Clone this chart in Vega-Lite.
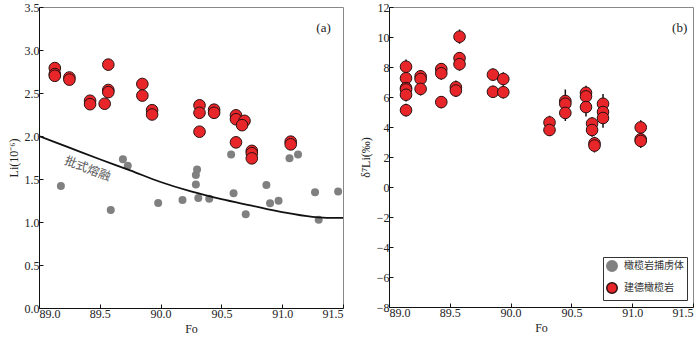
{
  "$schema": "https://vega.github.io/schema/vega-lite/v6.json",
  "background": "white",
  "padding": {"left": 6, "top": 0, "right": 4, "bottom": 0},
  "config": {
    "view": {"stroke": "#888", "strokeWidth": 1},
    "font": "Liberation Serif",
    "axis": {
      "labelFont": "Liberation Serif", "labelFontSize": 12, "labelColor": "#222",
      "titleFont": "Liberation Serif", "titleFontSize": 12, "titleFontWeight": "normal", "titleColor": "#222",
      "domainColor": "#111", "tickColor": "#111", "tickSize": -4, "grid": false, "labelPadding": 4,
      "labelOverlap": false
    },
    "legend": {"labelFont": "Noto Sans CJK SC"}
  },
  "datasets": {
    "grayA": [
      {"fo": 89.18, "li": 1.42}, {"fo": 89.59, "li": 1.14}, {"fo": 89.98, "li": 1.22},
      {"fo": 90.18, "li": 1.255}, {"fo": 90.29, "li": 1.436}, {"fo": 90.29, "li": 1.546},
      {"fo": 90.30, "li": 1.61}, {"fo": 90.31, "li": 1.278}, {"fo": 90.40, "li": 1.27},
      {"fo": 90.60, "li": 1.335}, {"fo": 90.70, "li": 1.09}, {"fo": 90.87, "li": 1.43},
      {"fo": 90.90, "li": 1.217}, {"fo": 90.97, "li": 1.247}, {"fo": 91.27, "li": 1.347},
      {"fo": 91.30, "li": 1.025}, {"fo": 91.46, "li": 1.355}, {"fo": 89.69, "li": 1.73},
      {"fo": 89.73, "li": 1.654}, {"fo": 90.58, "li": 1.785}, {"fo": 91.06, "li": 1.74},
      {"fo": 91.13, "li": 1.785}
    ],
    "redA": [
      {"fo": 89.13, "li": 2.79}, {"fo": 89.13, "li": 2.72}, {"fo": 89.13, "li": 2.70},
      {"fo": 89.25, "li": 2.68}, {"fo": 89.25, "li": 2.655},
      {"fo": 89.42, "li": 2.41}, {"fo": 89.42, "li": 2.37},
      {"fo": 89.54, "li": 2.375}, {"fo": 89.57, "li": 2.83}, {"fo": 89.57, "li": 2.535}, {"fo": 89.57, "li": 2.51},
      {"fo": 89.85, "li": 2.605}, {"fo": 89.85, "li": 2.47},
      {"fo": 89.93, "li": 2.30}, {"fo": 89.93, "li": 2.25},
      {"fo": 90.32, "li": 2.357}, {"fo": 90.32, "li": 2.27}, {"fo": 90.32, "li": 2.05},
      {"fo": 90.44, "li": 2.306}, {"fo": 90.44, "li": 2.27},
      {"fo": 90.62, "li": 2.24}, {"fo": 90.62, "li": 2.195}, {"fo": 90.69, "li": 2.176},
      {"fo": 90.67, "li": 2.126}, {"fo": 90.62, "li": 1.926},
      {"fo": 90.75, "li": 1.827}, {"fo": 90.75, "li": 1.80}, {"fo": 90.75, "li": 1.74},
      {"fo": 91.07, "li": 1.934}, {"fo": 91.07, "li": 1.903}
    ],
    "curve": [
      {"fo": 89.0, "li": 2.0}, {"fo": 89.25, "li": 1.865}, {"fo": 89.5, "li": 1.73},
      {"fo": 89.75, "li": 1.60}, {"fo": 90.0, "li": 1.465}, {"fo": 90.25, "li": 1.355},
      {"fo": 90.5, "li": 1.265}, {"fo": 90.75, "li": 1.19}, {"fo": 91.0, "li": 1.115},
      {"fo": 91.25, "li": 1.06}, {"fo": 91.4, "li": 1.048}, {"fo": 91.5, "li": 1.048}
    ],
    "textA": [
      {"fo": 91.34, "li": 3.26, "t": "(a)"}
    ],
    "meltLabel": [
      {"fo": 89.40, "li": 1.62, "t": "批式熔融"}
    ],
    "textB": [
      {"fo": 91.39, "v": 10.6, "t": "(b)"}
    ],
    "redB": [
      {"fo": 89.14, "v": 8.02, "lo": 7.55, "hi": 8.5, "type": "建德橄榄岩"},
      {"fo": 89.14, "v": 7.25, "lo": 6.8, "hi": 7.7, "type": "建德橄榄岩"},
      {"fo": 89.14, "v": 6.6, "lo": 6.15, "hi": 7.05, "type": "建德橄榄岩"},
      {"fo": 89.14, "v": 6.5, "lo": 6.05, "hi": 6.95, "type": "建德橄榄岩"},
      {"fo": 89.14, "v": 6.15, "lo": 5.7, "hi": 6.6, "type": "建德橄榄岩"},
      {"fo": 89.14, "v": 5.12, "lo": 4.7, "hi": 5.55, "type": "建德橄榄岩"},
      {"fo": 89.26, "v": 7.38, "lo": 6.95, "hi": 7.8, "type": "建德橄榄岩"},
      {"fo": 89.26, "v": 7.2, "lo": 6.8, "hi": 7.6, "type": "建德橄榄岩"},
      {"fo": 89.26, "v": 6.54, "lo": 6.1, "hi": 7.0, "type": "建德橄榄岩"},
      {"fo": 89.43, "v": 7.86, "lo": 7.45, "hi": 8.25, "type": "建德橄榄岩"},
      {"fo": 89.43, "v": 7.58, "lo": 7.15, "hi": 8.0, "type": "建德橄榄岩"},
      {"fo": 89.43, "v": 5.66, "lo": 5.25, "hi": 6.05, "type": "建德橄榄岩"},
      {"fo": 89.55, "v": 6.65, "lo": 6.2, "hi": 7.1, "type": "建德橄榄岩"},
      {"fo": 89.55, "v": 6.43, "lo": 6.0, "hi": 6.85, "type": "建德橄榄岩"},
      {"fo": 89.58, "v": 10.02, "lo": 9.55, "hi": 10.5, "type": "建德橄榄岩"},
      {"fo": 89.58, "v": 8.59, "lo": 8.15, "hi": 9.0, "type": "建德橄榄岩"},
      {"fo": 89.58, "v": 8.19, "lo": 7.75, "hi": 8.6, "type": "建德橄榄岩"},
      {"fo": 89.855, "v": 7.49, "lo": 7.1, "hi": 7.9, "type": "建德橄榄岩"},
      {"fo": 89.855, "v": 6.35, "lo": 5.95, "hi": 6.75, "type": "建德橄榄岩"},
      {"fo": 89.94, "v": 7.2, "lo": 6.75, "hi": 7.65, "type": "建德橄榄岩"},
      {"fo": 89.94, "v": 6.32, "lo": 5.9, "hi": 6.75, "type": "建德橄榄岩"},
      {"fo": 90.32, "v": 4.3, "lo": 3.9, "hi": 4.75, "type": "建德橄榄岩"},
      {"fo": 90.32, "v": 3.8, "lo": 3.4, "hi": 4.2, "type": "建德橄榄岩"},
      {"fo": 90.45, "v": 5.73, "lo": 5.1, "hi": 6.5, "type": "建德橄榄岩"},
      {"fo": 90.45, "v": 5.55, "lo": 5.0, "hi": 6.1, "type": "建德橄榄岩"},
      {"fo": 90.45, "v": 4.94, "lo": 4.4, "hi": 5.4, "type": "建德橄榄岩"},
      {"fo": 90.62, "v": 6.28, "lo": 5.8, "hi": 6.75, "type": "建德橄榄岩"},
      {"fo": 90.62, "v": 6.04, "lo": 5.5, "hi": 6.5, "type": "建德橄榄岩"},
      {"fo": 90.62, "v": 5.33, "lo": 4.7, "hi": 5.9, "type": "建德橄榄岩"},
      {"fo": 90.67, "v": 4.23, "lo": 3.8, "hi": 4.65, "type": "建德橄榄岩"},
      {"fo": 90.67, "v": 3.8, "lo": 3.35, "hi": 4.25, "type": "建德橄榄岩"},
      {"fo": 90.69, "v": 2.91, "lo": 2.45, "hi": 3.35, "type": "建德橄榄岩"},
      {"fo": 90.69, "v": 2.76, "lo": 2.3, "hi": 3.2, "type": "建德橄榄岩"},
      {"fo": 90.76, "v": 5.55, "lo": 5.1, "hi": 6.2, "type": "建德橄榄岩"},
      {"fo": 90.76, "v": 5.0, "lo": 4.5, "hi": 5.5, "type": "建德橄榄岩"},
      {"fo": 90.76, "v": 4.6, "lo": 3.95, "hi": 5.1, "type": "建德橄榄岩"},
      {"fo": 91.07, "v": 3.97, "lo": 3.55, "hi": 4.45, "type": "建德橄榄岩"},
      {"fo": 91.07, "v": 3.18, "lo": 2.75, "hi": 3.6, "type": "建德橄榄岩"},
      {"fo": 91.07, "v": 3.07, "lo": 2.6, "hi": 3.5, "type": "建德橄榄岩"}
    ]
  },
  "spacing": 46,
  "bounds": "flush",
  "resolve": {"legend": {"fill": "independent", "stroke": "independent"}},
  "hconcat": [
    {
      "width": 304,
      "height": 301,
      "layer": [
        {
          "data": {"name": "grayA"},
          "mark": {"type": "circle", "size": 64, "color": "#808080", "opacity": 1},
          "encoding": {
            "x": {"field": "fo", "type": "quantitative", "scale": {"domain": [89, 91.5], "nice": false, "zero": false},
                  "axis": {"title": "Fo", "values": [89, 89.5, 90, 90.5, 91, 91.5], "format": ".1f", "labelOverlap": false}},
            "y": {"field": "li", "type": "quantitative", "scale": {"domain": [0, 3.5], "nice": false},
                  "axis": {"title": "Li(10⁻⁶)", "values": [0, 0.5, 1, 1.5, 2, 2.5, 3, 3.5], "format": ".1f", "labelOverlap": false}}
          }
        },
        {
          "data": {"name": "curve"},
          "mark": {"type": "line", "color": "#111", "strokeWidth": 1.8, "interpolate": "monotone", "clip": true},
          "encoding": {
            "x": {"field": "fo", "type": "quantitative"},
            "y": {"field": "li", "type": "quantitative"}
          }
        },
        {
          "data": {"name": "redA"},
          "mark": {"type": "circle", "size": 135, "fill": "#e8262a", "stroke": "#2a1010", "strokeWidth": 1, "opacity": 1},
          "encoding": {
            "x": {"field": "fo", "type": "quantitative"},
            "y": {"field": "li", "type": "quantitative"}
          }
        },
        {
          "data": {"name": "textA"},
          "mark": {"type": "text", "font": "Liberation Serif", "fontSize": 13, "color": "#222"},
          "encoding": {
            "x": {"field": "fo", "type": "quantitative"},
            "y": {"field": "li", "type": "quantitative"},
            "text": {"field": "t"}
          }
        },
        {
          "data": {"name": "meltLabel"},
          "mark": {"type": "text", "font": "Noto Sans CJK SC", "fontSize": 12, "color": "#555", "angle": 21},
          "encoding": {
            "x": {"field": "fo", "type": "quantitative"},
            "y": {"field": "li", "type": "quantitative"},
            "text": {"field": "t"}
          }
        }
      ]
    },
    {
      "width": 304,
      "height": 300,
      "layer": [
        {
          "data": {"name": "redB"},
          "mark": {"type": "rule", "color": "#111", "strokeWidth": 1.5},
          "encoding": {
            "x": {"field": "fo", "type": "quantitative", "scale": {"domain": [89, 91.5], "nice": false, "zero": false},
                  "axis": {"title": "Fo", "values": [89, 89.5, 90, 90.5, 91, 91.5], "format": ".1f", "labelOverlap": false}},
            "y": {"field": "lo", "type": "quantitative", "scale": {"domain": [-8, 12], "nice": false},
                  "axis": {"title": "δ⁷Li(‰)", "tickCount": 11, "values": [-8, -6, -4, -2, 0, 2, 4, 6, 8, 10, 12], "labelOverlap": false, "labelBound": false}},
            "y2": {"field": "hi"}
          }
        },
        {
          "data": {"name": "redB"},
          "mark": {"type": "point", "shape": "circle", "size": 135, "filled": true, "strokeWidth": 1, "opacity": 1},
          "encoding": {
            "x": {"field": "fo", "type": "quantitative"},
            "y": {"field": "v", "type": "quantitative"},
            "fill": {"field": "type", "type": "nominal",
                     "scale": {"domain": ["橄榄岩捕虏体", "建德橄榄岩"], "range": ["#808080", "#e8262a"]},
                     "legend": {"title": null, "orient": "none", "legendX": 214, "legendY": 250,
                                "strokeColor": "#333", "fillColor": "white", "padding": 3,
                                "labelFont": "Noto Sans CJK SC", "labelFontSize": 10, "labelColor": "#333",
                                "symbolSize": 110, "rowPadding": 4, "labelOffset": 6}},
            "stroke": {"field": "type", "type": "nominal",
                       "scale": {"domain": ["橄榄岩捕虏体", "建德橄榄岩"], "range": ["#808080", "#2a1010"]},
                       "legend": {"title": null, "orient": "none", "legendX": 214, "legendY": 250,
                                  "strokeColor": "#333", "fillColor": "white", "padding": 3,
                                  "labelFont": "Noto Sans CJK SC", "labelFontSize": 10, "labelColor": "#333",
                                  "symbolSize": 110, "rowPadding": 4, "labelOffset": 6}}
          }
        },
        {
          "data": {"name": "textB"},
          "mark": {"type": "text", "font": "Liberation Serif", "fontSize": 13, "color": "#222"},
          "encoding": {
            "x": {"field": "fo", "type": "quantitative"},
            "y": {"field": "v", "type": "quantitative"},
            "text": {"field": "t"}
          }
        }
      ]
    }
  ]
}
